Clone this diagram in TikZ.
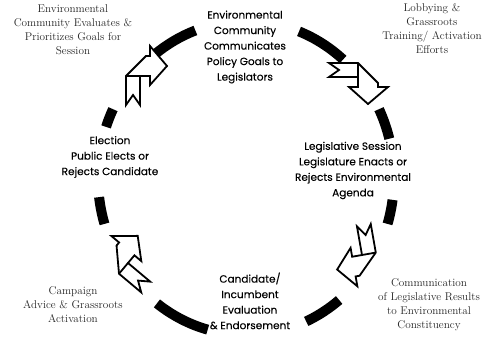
\documentclass[tikz,border=0pt]{standalone}
\usepackage{fontspec}
\newfontfamily\futfont[FakeBold=0.2]{Poppins}
\tikzset{
  ring/.style={line width=10pt, draw=black},
  arrowline/.style={draw=black, fill=white, line width=1.8pt, line join=miter},
  boldlabel/.style={font=\futfont\fontsize{10.5}{15.5}\selectfont, align=center, text=black, inner sep=0pt},
  seriflabel/.style={font=\fontsize{11.2}{14}\selectfont, align=center, text=black!85, inner sep=0pt},
  cycarrow/.pic={
    \draw[arrowline] (-29,14) -- (-19,7) -- (-29,0) -- (0,0) -- (0,-10) -- (-9,-10)
      -- (10,-27) -- (30,-10) -- (20,-10) -- (20,-6) -- (0,14) -- cycle;
    \draw[arrowline] (0,0) -- (0,14);
  }
}
\newcommand\ringarc[2]{%
  \draw[ring] ([shift={(#1:148 and 157)}]C) arc[start angle=#1, end angle=#2, x radius=148, y radius=157];}
\begin{document}
\begin{tikzpicture}[x=1pt,y=1pt]
\useasboundingbox (0,0) rectangle (487,-339);
\coordinate (C) at (246,-178);
% ring segments
\ringarc{128}{110}
\ringarc{69}{49}
\ringarc{26}{14.5}
\ringarc{-8}{-17}
\ringarc{-51}{-66}
\ringarc{-105}{-127}
\ringarc{197}{187}
\ringarc{161}{154}
% arrows
\pic (a1) at (358,-77) {cycarrow};
\pic[rotate=-80] (a2) at (362,-255) {cycarrow};
\pic[rotate=140] (a3) at (128,-263) {cycarrow};
\pic[rotate=90] (a4) at (140,-76) {cycarrow};
% main labels
\node[boldlabel] (ttop) at (245,-47) {Environmental\\Community\\Communicates\\Policy Goals to\\Legislators};
\node[boldlabel] (tleg) at (353,-170.5) {Legislative Session\\Legislature Enacts or\\Rejects Environmental\\Agenda};
\node[boldlabel] (tcand) at (250,-301) {Candidate/\\Incumbent\\Evaluation\\\& Endorsement};
\node[boldlabel] (telec) at (110,-157) {Election\\Public Elects or\\Rejects Candidate};
% side notes
\node[seriflabel] (stl) at (73,-30) {Environmental\\Community Evaluates \&\\Prioritizes Goals for\\Session};
\node[seriflabel] (str) at (432,-29) {Lobbying \&\\Grassroots\\Training/ Activation\\Efforts};
\node[seriflabel] (sbl) at (73,-305) {Campaign\\Advice \& Grassroots\\Activation};
\node[seriflabel] (sbr) at (429,-305) {Communication\\of Legislative Results\\to Environmental\\Constituency};
\end{tikzpicture}
\end{document}
